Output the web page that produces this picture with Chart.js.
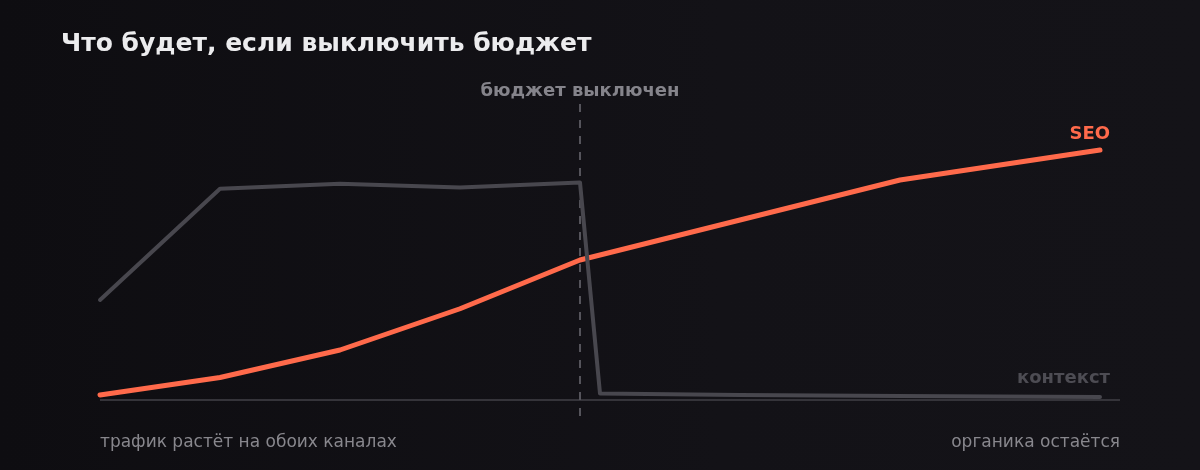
<!DOCTYPE html>
<html lang="ru">
<head>
<meta charset="utf-8">
<title>Что будет, если выключить бюджет</title>
<script src="https://cdn.jsdelivr.net/npm/chart.js@4/dist/chart.umd.min.js"></script>
<style>
  html, body { margin: 0; padding: 0; background: #111015; }
  #wrap { width: 1200px; height: 470px; background: linear-gradient(90deg, #0e0d11 0%, #131217 60%, #141318 100%); }
  canvas { display: block; }
</style>
</head>
<body>
<div id="wrap"><canvas id="chart" width="1200" height="470"></canvas></div>
<script>
// months on a linear axis
const contextX = [0, 3, 6, 9, 12, 12.5, 16, 20, 25];
const contextY = [40, 84.5, 86.5, 85, 87, 2.6, 2.0, 1.6, 1.2];
const seoX = [0, 3, 6, 9, 12, 16, 20, 25];
const seoY = [2, 9, 20, 36.5, 56, 72, 88, 100];
const budgetOffAt = 12;

const titleText = 'Что будет, если выключить бюджет';
const markerText = 'бюджет выключен';
const seoLabel = 'SEO';
const contextLabel = 'контекст';
const leftNote = 'трафик растёт на обоих каналах';
const rightNote = 'органика остаётся';

const ORANGE = '#ff6a4b';
const GREY_LINE = '#48474e';
const FONT = '"DejaVu Sans", sans-serif';

const toPoints = (xs, ys) => xs.map((x, i) => ({ x: x, y: ys[i] }));

const annotations = {
    id: 'annotations',
    beforeDatasetsDraw(chart) {
        const { ctx, scales: { x, y } } = chart;
        ctx.save();
        // baseline
        ctx.strokeStyle = '#35343a';
        ctx.lineWidth = 2;
        ctx.beginPath();
        ctx.moveTo(x.getPixelForValue(0), y.getPixelForValue(0));
        ctx.lineTo(x.getPixelForValue(x.max), y.getPixelForValue(0));
        ctx.stroke();
        // budget off marker
        const mx = Math.round(x.getPixelForValue(budgetOffAt));
        ctx.strokeStyle = '#55545b';
        ctx.lineWidth = 2;
        ctx.setLineDash([8, 8]);
        ctx.beginPath();
        ctx.moveTo(mx, 104);
        ctx.lineTo(mx, 418);
        ctx.stroke();
        ctx.restore();
    },
    afterDraw(chart) {
        const { ctx, scales: { x } } = chart;
        ctx.save();
        ctx.textBaseline = 'alphabetic';

        ctx.fillStyle = '#ececee';
        ctx.font = 'bold 25px ' + FONT;
        ctx.textAlign = 'left';
        ctx.fillText(titleText, 61, 51);

        ctx.fillStyle = '#85848b';
        ctx.font = 'bold 18px ' + FONT;
        ctx.textAlign = 'center';
        ctx.fillText(markerText, x.getPixelForValue(budgetOffAt), 96);

        ctx.textAlign = 'right';
        ctx.fillStyle = ORANGE;
        ctx.fillText(seoLabel, 1110, 139);
        ctx.fillStyle = '#4d4c53';
        ctx.fillText(contextLabel, 1110, 383);

        ctx.font = '17px ' + FONT;
        ctx.fillStyle = '#88878d';
        ctx.textAlign = 'left';
        ctx.fillText(leftNote, 100, 447);
        ctx.textAlign = 'right';
        ctx.fillText(rightNote, 1120, 447);
        ctx.restore();
    }
};

new Chart(document.getElementById('chart'), {
    type: 'line',
    data: {
        datasets: [
            {
                label: contextLabel,
                data: toPoints(contextX, contextY),
                borderColor: GREY_LINE,
                borderWidth: 4,
                pointRadius: 0,
                tension: 0,
                clip: false,
                borderCapStyle: 'round',
                borderJoinStyle: 'round'
            },
            {
                label: seoLabel,
                data: toPoints(seoX, seoY),
                borderColor: ORANGE,
                borderWidth: 5,
                pointRadius: 0,
                tension: 0,
                clip: false,
                borderCapStyle: 'round',
                borderJoinStyle: 'round'
            }
        ]
    },
    options: {
        responsive: false,
        animation: false,
        devicePixelRatio: 1,
        layout: { padding: { left: 100, right: 80, top: 100, bottom: 70 } },
        plugins: { legend: { display: false }, tooltip: { enabled: false }, title: { display: false } },
        scales: {
            x: { type: 'linear', min: 0, max: 25.5, display: false },
            y: { min: 0, max: 120, display: false }
        }
    },
    plugins: [annotations]
});
</script>
</body>
</html>
